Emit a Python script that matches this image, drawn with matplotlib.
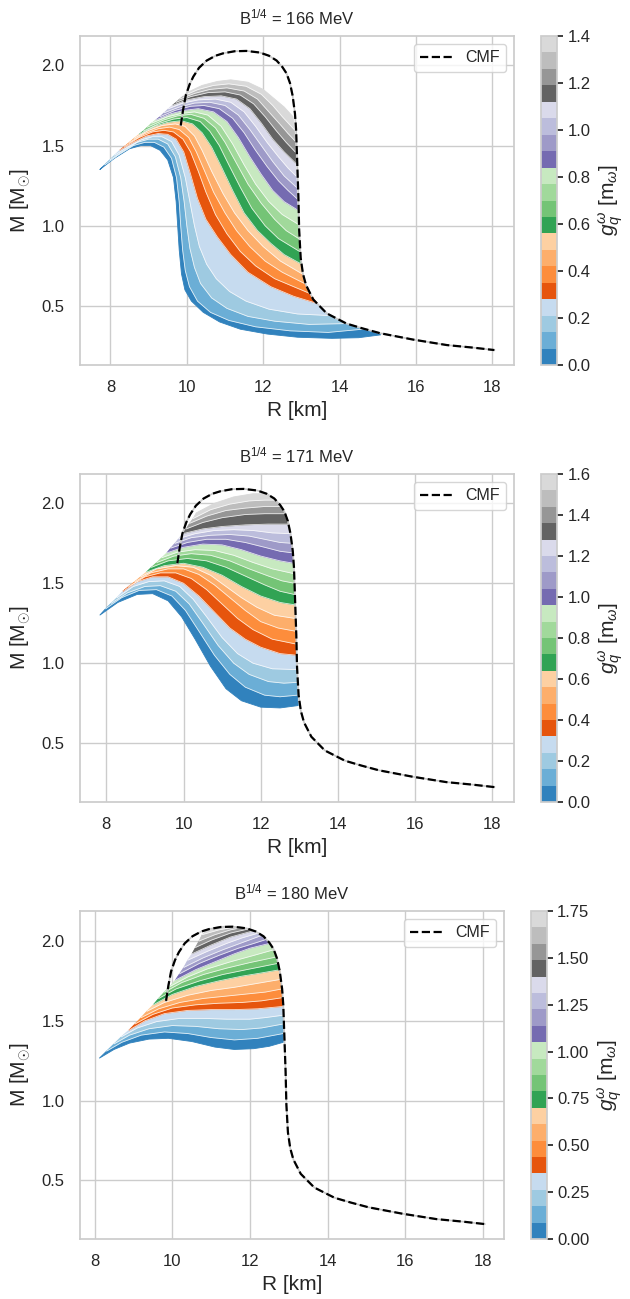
import matplotlib
matplotlib.use("Agg")
import matplotlib.pyplot as plt
from matplotlib.colors import Normalize
from matplotlib.cm import ScalarMappable
from matplotlib.ticker import MultipleLocator

# hadronic CMF mass-radius curve (shared by all panels)
cmf_R = [9.84, 9.9, 9.97, 10.07, 10.17, 10.32, 10.52, 10.75, 10.95, 11.25, 11.56, 11.91,
         12.15, 12.35, 12.5, 12.61, 12.7, 12.77, 12.83, 12.86, 12.89, 12.92, 12.94, 12.98,
         13.04, 13.12, 13.31, 13.66, 14.18, 14.6, 15.06, 15.93, 16.81, 17.5, 18.05]
cmf_M = [1.625, 1.72, 1.81, 1.88, 1.93, 1.985, 2.03, 2.06, 2.075, 2.088, 2.09, 2.08,
         2.06, 2.03, 1.99, 1.95, 1.89, 1.81, 1.70, 1.60, 1.39, 1.18, 0.975, 0.80,
         0.70, 0.63, 0.54, 0.454, 0.39, 0.36, 0.33, 0.29, 0.256, 0.24, 0.225]

# B^1/4 = 166 MeV: quark-hadron curves at each coupling g_q^w
b166_g = [0.0, 0.07, 0.14, 0.21, 0.28, 0.35, 0.42, 0.49, 0.56, 0.63, 0.7,
          0.77, 0.84, 0.91, 0.98, 1.05, 1.12, 1.19, 1.26, 1.33, 1.4]
b166_R = [
    [7.72, 8.1, 8.5, 8.8, 9.05, 9.3, 9.5, 9.65, 9.72, 9.76, 9.8, 9.86, 9.95, 10.12, 10.43, 10.86, 11.4, 12.1, 12.9, 13.8, 14.5, 15.08],
    [7.85, 8.2, 8.6, 8.9, 9.15, 9.4, 9.6, 9.73, 9.8, 9.84, 9.89, 9.96, 10.07, 10.28, 10.62, 11.1, 11.8, 12.7, 13.7, 14.6],
    [7.98, 8.3, 8.7, 9.0, 9.25, 9.5, 9.7, 9.84, 9.93, 10.0, 10.08, 10.2, 10.36, 10.65, 11.05, 11.6, 12.3, 13.2, 14.15],
    [8.11, 8.45, 8.8, 9.1, 9.35, 9.6, 9.8, 9.96, 10.08, 10.2, 10.33, 10.52, 10.77, 11.12, 11.55, 12.15, 12.9, 13.75],
    [8.24, 8.6, 8.95, 9.25, 9.5, 9.72, 9.92, 10.1, 10.28, 10.5, 10.8, 11.15, 11.6, 12.2, 12.8, 13.42],
    [8.37, 8.75, 9.1, 9.4, 9.65, 9.9, 10.1, 10.3, 10.5, 10.75, 11.05, 11.4, 11.8, 12.3, 12.8, 13.2],
    [8.5, 8.9, 9.25, 9.55, 9.8, 10.05, 10.25, 10.45, 10.7, 11.0, 11.3, 11.65, 12.05, 12.5, 13.08],
    [8.62, 9.0, 9.35, 9.7, 9.95, 10.2, 10.4, 10.65, 10.95, 11.25, 11.6, 12.0, 12.45, 13.02],
    [8.75, 9.15, 9.5, 9.85, 10.15, 10.4, 10.65, 10.9, 11.2, 11.5, 11.85, 12.2, 12.55, 12.97],
    [8.86, 9.3, 9.65, 10.0, 10.35, 10.6, 10.85, 11.1, 11.4, 11.7, 12.05, 12.4, 12.95],
    [8.97, 9.4, 9.75, 10.1, 10.45, 10.75, 11.0, 11.3, 11.6, 11.95, 12.3, 12.6, 12.93],
    [9.08, 9.5, 9.85, 10.2, 10.55, 10.9, 11.2, 11.5, 11.8, 12.15, 12.5, 12.91],
    [9.19, 9.6, 9.95, 10.3, 10.7, 11.05, 11.35, 11.65, 11.95, 12.25, 12.55, 12.89],
    [9.3, 9.7, 10.1, 10.45, 10.85, 11.2, 11.5, 11.8, 12.1, 12.4, 12.65, 12.88],
    [9.41, 9.8, 10.2, 10.6, 11.0, 11.35, 11.65, 11.95, 12.25, 12.55, 12.87],
    [9.52, 9.9, 10.3, 10.75, 11.15, 11.5, 11.8, 12.1, 12.4, 12.65, 12.86],
    [9.62, 10.0, 10.45, 10.9, 11.3, 11.65, 11.95, 12.25, 12.55, 12.85],
    [9.72, 10.1, 10.55, 11.0, 11.4, 11.75, 12.05, 12.35, 12.6, 12.84],
    [9.81, 10.2, 10.6, 11.05, 11.5, 11.85, 12.15, 12.45, 12.65, 12.83],
    [9.91, 10.3, 10.7, 11.1, 11.55, 11.95, 12.25, 12.5, 12.81],
    [10.0, 10.4, 10.8, 11.15, 11.6, 12.0, 12.3, 12.55, 12.78],
]
b166_M = [
    [1.35, 1.42, 1.48, 1.50, 1.50, 1.47, 1.41, 1.30, 1.15, 1.00, 0.85, 0.70, 0.60, 0.53, 0.46, 0.40, 0.355, 0.325, 0.305, 0.298, 0.302, 0.32],
    [1.38, 1.44, 1.50, 1.52, 1.52, 1.49, 1.42, 1.30, 1.15, 1.00, 0.85, 0.72, 0.62, 0.53, 0.46, 0.41, 0.37, 0.345, 0.335, 0.355],
    [1.41, 1.46, 1.52, 1.54, 1.54, 1.51, 1.43, 1.30, 1.15, 1.00, 0.86, 0.74, 0.64, 0.55, 0.485, 0.435, 0.405, 0.385, 0.39],
    [1.44, 1.49, 1.535, 1.555, 1.555, 1.525, 1.44, 1.30, 1.15, 1.00, 0.87, 0.76, 0.67, 0.59, 0.53, 0.48, 0.45, 0.44],
    [1.47, 1.52, 1.56, 1.575, 1.57, 1.54, 1.46, 1.32, 1.17, 1.04, 0.93, 0.82, 0.71, 0.62, 0.56, 0.515],
    [1.495, 1.55, 1.585, 1.595, 1.585, 1.54, 1.46, 1.34, 1.21, 1.07, 0.95, 0.84, 0.75, 0.67, 0.62, 0.58],
    [1.52, 1.575, 1.605, 1.615, 1.6, 1.55, 1.46, 1.35, 1.21, 1.08, 0.97, 0.87, 0.78, 0.71, 0.64],
    [1.545, 1.595, 1.625, 1.635, 1.62, 1.56, 1.47, 1.34, 1.20, 1.08, 0.97, 0.87, 0.78, 0.70],
    [1.57, 1.62, 1.645, 1.655, 1.635, 1.58, 1.49, 1.37, 1.22, 1.08, 0.97, 0.89, 0.82, 0.765],
    [1.59, 1.64, 1.665, 1.675, 1.65, 1.59, 1.50, 1.38, 1.24, 1.11, 1.0, 0.92, 0.84],
    [1.615, 1.66, 1.685, 1.695, 1.67, 1.61, 1.52, 1.39, 1.26, 1.14, 1.04, 0.97, 0.92],
    [1.64, 1.68, 1.70, 1.71, 1.69, 1.62, 1.51, 1.38, 1.26, 1.15, 1.07, 1.01],
    [1.66, 1.70, 1.72, 1.73, 1.71, 1.65, 1.55, 1.43, 1.32, 1.22, 1.15, 1.10],
    [1.68, 1.72, 1.745, 1.75, 1.73, 1.67, 1.58, 1.47, 1.37, 1.28, 1.22, 1.17],
    [1.705, 1.74, 1.765, 1.77, 1.75, 1.69, 1.60, 1.50, 1.40, 1.31, 1.24],
    [1.73, 1.765, 1.785, 1.79, 1.77, 1.71, 1.62, 1.52, 1.43, 1.36, 1.31],
    [1.75, 1.785, 1.805, 1.81, 1.79, 1.73, 1.64, 1.54, 1.46, 1.39],
    [1.77, 1.805, 1.83, 1.835, 1.815, 1.76, 1.68, 1.59, 1.52, 1.46],
    [1.79, 1.825, 1.85, 1.86, 1.84, 1.79, 1.71, 1.63, 1.575, 1.53],
    [1.81, 1.85, 1.875, 1.885, 1.87, 1.82, 1.75, 1.68, 1.60],
    [1.83, 1.875, 1.90, 1.91, 1.895, 1.85, 1.79, 1.74, 1.68],
]

# B^1/4 = 171 MeV
b171_g = [0.0, 0.08, 0.16, 0.24, 0.32, 0.4, 0.48, 0.56, 0.64, 0.72, 0.8,
          0.88, 0.96, 1.04, 1.12, 1.2, 1.28, 1.36, 1.44, 1.52, 1.6]
b171_R = [
    [7.83, 8.3, 8.8, 9.2, 9.6, 9.95, 10.3, 10.7, 11.1, 11.5, 12.0, 12.5, 12.97],
    [7.98, 8.4, 8.85, 9.3, 9.7, 10.05, 10.4, 10.8, 11.2, 11.6, 12.1, 12.5, 12.95],
    [8.13, 8.55, 9.0, 9.4, 9.8, 10.15, 10.5, 10.9, 11.3, 11.7, 12.2, 12.6, 12.94],
    [8.28, 8.7, 9.1, 9.5, 9.9, 10.25, 10.6, 11.0, 11.4, 11.8, 12.3, 12.93],
    [8.43, 8.8, 9.2, 9.6, 10.0, 10.4, 10.8, 11.2, 11.6, 12.0, 12.5, 12.92],
    [8.58, 9.0, 9.4, 9.8, 10.2, 10.6, 11.0, 11.4, 11.8, 12.3, 12.91],
    [8.74, 9.15, 9.6, 10.0, 10.4, 10.8, 11.2, 11.6, 12.0, 12.45, 12.9],
    [8.89, 9.3, 9.8, 10.25, 10.7, 11.1, 11.5, 11.9, 12.35, 12.89],
    [9.04, 9.5, 10.0, 10.5, 11.0, 11.5, 12.0, 12.5, 12.88],
    [9.17, 9.6, 10.1, 10.6, 11.1, 11.6, 12.1, 12.5, 12.87],
    [9.31, 9.75, 10.2, 10.7, 11.2, 11.7, 12.2, 12.55, 12.87],
    [9.44, 9.85, 10.3, 10.8, 11.3, 11.8, 12.3, 12.86],
    [9.57, 10.0, 10.5, 11.0, 11.5, 12.0, 12.5, 12.85],
    [9.67, 10.1, 10.6, 11.1, 11.6, 12.1, 12.5, 12.83],
    [9.78, 10.2, 10.7, 11.2, 11.7, 12.2, 12.5, 12.81],
    [9.88, 10.3, 10.8, 11.3, 11.8, 12.3, 12.78],
    [9.98, 10.5, 11.0, 11.6, 12.2, 12.73],
    [10.07, 10.5, 11.0, 11.6, 12.1, 12.64],
    [10.16, 10.6, 11.1, 11.6, 12.1, 12.52],
    [10.25, 10.7, 11.2, 11.7, 12.1, 12.38],
    [10.33, 10.8, 11.3, 11.8, 12.15],
]
b171_M = [
    [1.30, 1.38, 1.43, 1.435, 1.39, 1.29, 1.15, 0.98, 0.84, 0.765, 0.725, 0.72, 0.735],
    [1.34, 1.41, 1.455, 1.46, 1.42, 1.33, 1.20, 1.05, 0.93, 0.85, 0.80, 0.79, 0.80],
    [1.375, 1.44, 1.48, 1.485, 1.45, 1.37, 1.25, 1.11, 1.00, 0.93, 0.885, 0.875, 0.88],
    [1.41, 1.48, 1.51, 1.515, 1.48, 1.40, 1.29, 1.16, 1.06, 1.00, 0.965, 0.96],
    [1.45, 1.51, 1.54, 1.54, 1.50, 1.42, 1.32, 1.22, 1.15, 1.10, 1.06, 1.05],
    [1.48, 1.54, 1.565, 1.565, 1.53, 1.46, 1.37, 1.28, 1.21, 1.15, 1.12],
    [1.51, 1.565, 1.59, 1.59, 1.555, 1.49, 1.41, 1.33, 1.26, 1.22, 1.20],
    [1.54, 1.59, 1.61, 1.60, 1.55, 1.48, 1.41, 1.35, 1.30, 1.28],
    [1.57, 1.61, 1.625, 1.60, 1.55, 1.48, 1.42, 1.38, 1.365],
    [1.60, 1.64, 1.655, 1.64, 1.60, 1.545, 1.49, 1.45, 1.43],
    [1.63, 1.67, 1.685, 1.675, 1.64, 1.59, 1.545, 1.515, 1.50],
    [1.66, 1.695, 1.71, 1.705, 1.675, 1.63, 1.59, 1.56],
    [1.69, 1.725, 1.745, 1.74, 1.71, 1.67, 1.64, 1.625],
    [1.72, 1.755, 1.775, 1.775, 1.755, 1.725, 1.70, 1.69],
    [1.75, 1.785, 1.80, 1.805, 1.795, 1.77, 1.755, 1.75],
    [1.78, 1.81, 1.83, 1.835, 1.83, 1.815, 1.81],
    [1.81, 1.84, 1.855, 1.865, 1.87, 1.87],
    [1.84, 1.88, 1.91, 1.93, 1.935, 1.935],
    [1.875, 1.92, 1.955, 1.97, 1.98, 1.98],
    [1.905, 1.96, 1.995, 2.015, 2.02, 2.02],
    [1.94, 2.0, 2.04, 2.06, 2.06],
]

# B^1/4 = 180 MeV
b180_g = [0.0, 0.0875, 0.175, 0.2625, 0.35, 0.4375, 0.525, 0.6125, 0.7, 0.7875, 0.875,
          0.9625, 1.05, 1.1375, 1.225, 1.3125, 1.4, 1.4875, 1.575, 1.6625, 1.75]
b180_R = [
    [8.12, 8.5, 8.9, 9.4, 9.9, 10.5, 11.1, 11.6, 12.1, 12.5, 12.86],
    [8.31, 8.7, 9.2, 9.8, 10.4, 11.0, 11.6, 12.2, 12.86],
    [8.5, 8.9, 9.4, 10.0, 10.6, 11.2, 11.8, 12.3, 12.86],
    [8.69, 9.1, 9.6, 10.2, 10.8, 11.4, 12.0, 12.4, 12.86],
    [8.88, 9.3, 9.8, 10.4, 11.0, 11.6, 12.2, 12.85],
    [9.04, 9.5, 10.0, 10.6, 11.2, 11.8, 12.3, 12.84],
    [9.2, 9.65, 10.2, 10.8, 11.4, 12.0, 12.4, 12.83],
    [9.35, 9.8, 10.4, 11.0, 11.6, 12.2, 12.8],
    [9.51, 10.0, 10.6, 11.2, 11.8, 12.3, 12.77],
    [9.65, 10.1, 10.7, 11.3, 11.9, 12.72],
    [9.8, 10.25, 10.8, 11.4, 12.0, 12.68],
    [9.94, 10.4, 10.9, 11.5, 12.1, 12.61],
    [10.08, 10.6, 11.1, 11.6, 12.0, 12.5],
    [10.19, 10.7, 11.2, 11.7, 12.1, 12.42],
    [10.3, 10.8, 11.3, 11.8, 12.3],
    [10.4, 10.9, 11.4, 11.8, 12.22],
    [10.51, 11.0, 11.5, 12.1],
    [10.6, 11.0, 11.5, 11.95],
    [10.69, 11.1, 11.5, 11.8],
    [10.77, 11.2, 11.65],
    [10.9, 11.2, 11.45],
]
b180_M = [
    [1.265, 1.32, 1.36, 1.385, 1.39, 1.37, 1.335, 1.32, 1.325, 1.34, 1.365],
    [1.31, 1.365, 1.41, 1.43, 1.42, 1.395, 1.38, 1.39, 1.42],
    [1.355, 1.41, 1.45, 1.47, 1.465, 1.45, 1.445, 1.455, 1.48],
    [1.40, 1.455, 1.495, 1.515, 1.515, 1.51, 1.51, 1.52, 1.535],
    [1.44, 1.50, 1.545, 1.565, 1.57, 1.57, 1.575, 1.59],
    [1.48, 1.54, 1.58, 1.60, 1.61, 1.615, 1.625, 1.645],
    [1.52, 1.575, 1.615, 1.64, 1.655, 1.67, 1.68, 1.70],
    [1.56, 1.615, 1.66, 1.69, 1.71, 1.735, 1.76],
    [1.60, 1.665, 1.715, 1.75, 1.78, 1.80, 1.82],
    [1.64, 1.70, 1.75, 1.79, 1.82, 1.86],
    [1.68, 1.74, 1.79, 1.83, 1.865, 1.90],
    [1.715, 1.775, 1.825, 1.87, 1.91, 1.945],
    [1.755, 1.82, 1.87, 1.92, 1.955, 1.985],
    [1.795, 1.86, 1.91, 1.955, 1.985, 2.01],
    [1.835, 1.895, 1.945, 1.99, 2.035],
    [1.88, 1.935, 1.985, 2.02, 2.05],
    [1.92, 1.975, 2.025, 2.065],
    [1.96, 2.005, 2.05, 2.075],
    [2.0, 2.04, 2.07, 2.085],
    [2.04, 2.07, 2.09],
    [2.07, 2.09, 2.095],
]

panels = [
    ("166", b166_g, b166_R, b166_M, [0.0, 0.2, 0.4, 0.6, 0.8, 1.0, 1.2, 1.4], "%.1f"),
    ("171", b171_g, b171_R, b171_M, [0.0, 0.2, 0.4, 0.6, 0.8, 1.0, 1.2, 1.4, 1.6], "%.1f"),
    ("180", b180_g, b180_R, b180_M, [0.0, 0.25, 0.5, 0.75, 1.0, 1.25, 1.5, 1.75], "%.2f"),
]

plt.rcParams.update({
    "font.family": ["Liberation Sans", "DejaVu Sans"],
    "mathtext.fontset": "custom",
    "mathtext.rm": "Liberation Sans",
    "mathtext.it": "Liberation Sans:italic",
    "mathtext.bf": "Liberation Sans:bold",
    "text.color": "#262626",
    "axes.labelcolor": "#262626",
    "xtick.color": "#262626",
    "ytick.color": "#262626",
    "axes.edgecolor": "#cccccc",
    "axes.linewidth": 1.25,
    "grid.color": "#cccccc",
    "grid.linewidth": 1.0,
})

fig = plt.figure(figsize=(6.3, 12.99), dpi=100)
ax_rects = [[0.127, 0.719, 0.689, 0.2533], [0.127, 0.3826, 0.689, 0.2525], [0.127, 0.0462, 0.673, 0.2525]]
cb_rects = [[0.8587, 0.719, 0.0254, 0.2533], [0.8587, 0.3826, 0.0254, 0.2525], [0.8424, 0.0462, 0.0254, 0.2525]]
cmap = plt.get_cmap("tab20c")

for (bag, g, Rs, Ms, cticks, cfmt), r_ax, r_cb in zip(panels, ax_rects, cb_rects):
    ax = fig.add_axes(r_ax)
    cax = fig.add_axes(r_cb)
    norm = Normalize(vmin=g[0], vmax=g[-1])

    # fill the region swept between neighbouring couplings
    for k in range(len(g) - 1):
        col = cmap(norm(0.5 * (g[k] + g[k + 1])))
        xs = Rs[k] + Rs[k + 1][::-1]
        ys = Ms[k] + Ms[k + 1][::-1]
        ax.fill(xs, ys, color=col, lw=0.6, ec=col, zorder=2)
    # thin separators between neighbouring curves
    for k in range(1, len(g) - 1):
        ax.plot(Rs[k], Ms[k], color="white", lw=0.6, alpha=0.8, zorder=3)

    ax.plot(cmf_R, cmf_M, color="#c8c8c8", lw=1.2, zorder=3.5)
    ax.plot(cmf_R, cmf_M, ls="--", color="black", lw=1.6, label="CMF", zorder=4)

    ax.set_axisbelow(True)
    ax.grid(True)
    ax.xaxis.set_major_locator(MultipleLocator(2))
    ax.yaxis.set_major_locator(MultipleLocator(0.5))
    ax.tick_params(length=0, labelsize=12, pad=11)
    ax.set_xlabel("R [km]", fontsize=15, labelpad=4)
    ax.set_ylabel(r"M [M$_{\odot}$]", fontsize=15, labelpad=6)
    ax.set_title(r"B$^{1/4}$ = " + bag + " MeV", fontsize=12, pad=8)
    ax.legend(loc="upper right", fontsize=11.5, fancybox=True, framealpha=0.8, edgecolor="#cccccc")

    cb = fig.colorbar(ScalarMappable(norm=norm, cmap=cmap), cax=cax)
    cb.set_ticks(cticks)
    cb.ax.set_yticklabels([cfmt % t for t in cticks])
    cb.outline.set_edgecolor("#cccccc")
    cb.ax.tick_params(labelsize=12, length=4, width=1.25, color="#262626")
    cb.set_label(r"$g_q^{\omega}$ [m$_{\omega}$]", fontsize=15, labelpad=4)

fig.savefig("out.png", dpi=100)
